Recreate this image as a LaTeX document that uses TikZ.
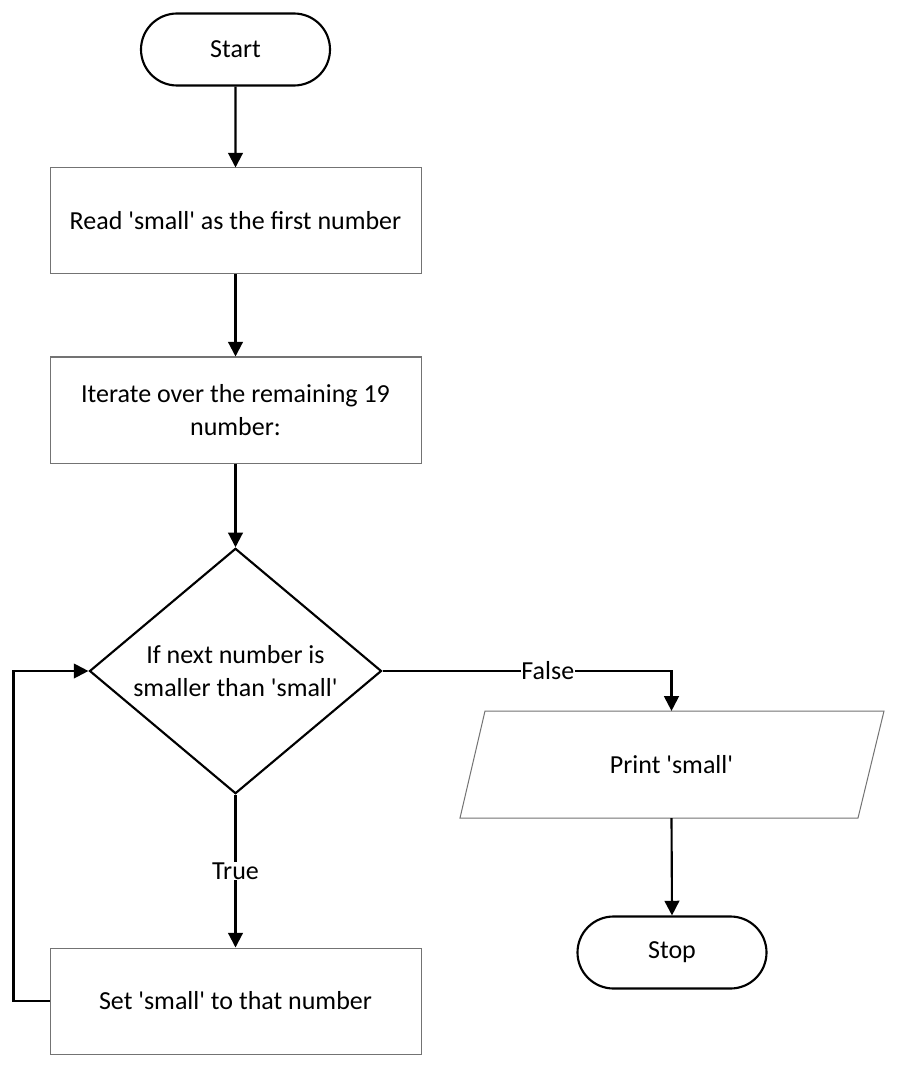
\documentclass[tikz,border=0pt]{standalone}
\usepackage{fontspec}
\setmainfont{Carlito}[Ligatures=TeXOff]
\usetikzlibrary{shapes.geometric,shapes.misc,arrows.meta}
\begin{document}
\begin{tikzpicture}[x=0.75pt,y=-0.75pt,
  every node/.style={font=\fontsize{19.5}{25}\selectfont, text=black},
  term/.style={draw=black, line width=1.6pt, rounded rectangle, minimum width=141.75pt, minimum height=54pt, inner sep=0pt},
  procbox/.style={draw=black!55, line width=0.75pt, rectangle, minimum width=278.25pt, minimum height=79.5pt, inner sep=0pt, align=center},
  decision/.style={draw=black, line width=1.6pt, diamond, aspect=1.19, minimum width=219pt, minimum height=184pt, inner sep=0pt, align=center},
  iobox/.style={rectangle, minimum width=280pt, minimum height=80pt, inner sep=0pt},
  arr/.style={line width=1.6pt, -{Triangle[length=11pt,width=11pt]}},
  lbl/.style={fill=white, inner sep=0.5pt}
]
\useasboundingbox[fill=white] (0,0) rectangle (899,1069);
\node[term] (start) at (235.5,49.5) {Start};
\node[procbox] (read) at (235.5,221) {Read 'small' as the first number};
\node[procbox] (iter) at (235.5,410) {Iterate over the remaining 19\\number:};
\node[decision] (dec) at (235.5,671) {If next number is\\smaller than 'small'};
\node[procbox] (set) at (235.5,1001) {Set 'small' to that number};
\node[iobox] (print) at (671.5,764.5) {Print 'small'};
\draw[draw=black!55, line width=0.75pt] (485,711) -- (884,711) -- (858,818) -- (460,818) -- cycle;
\node[term] (stop) at (672,952.5) {Stop};

\draw[arr] (start) -- (read);
\draw[arr] (read) -- (iter);
\draw[arr] (iter) -- (dec);
\draw[arr] (dec.south) -- node[lbl] {True} (set.north);
\draw[arr] (dec.east) -| node[lbl, pos=0.286] {False} (print.north);
\draw[arr] (print.south) -- (stop.north);
\draw[arr] (set.west) -- ++(-36,0) |- (dec.west);
\end{tikzpicture}
\end{document}
